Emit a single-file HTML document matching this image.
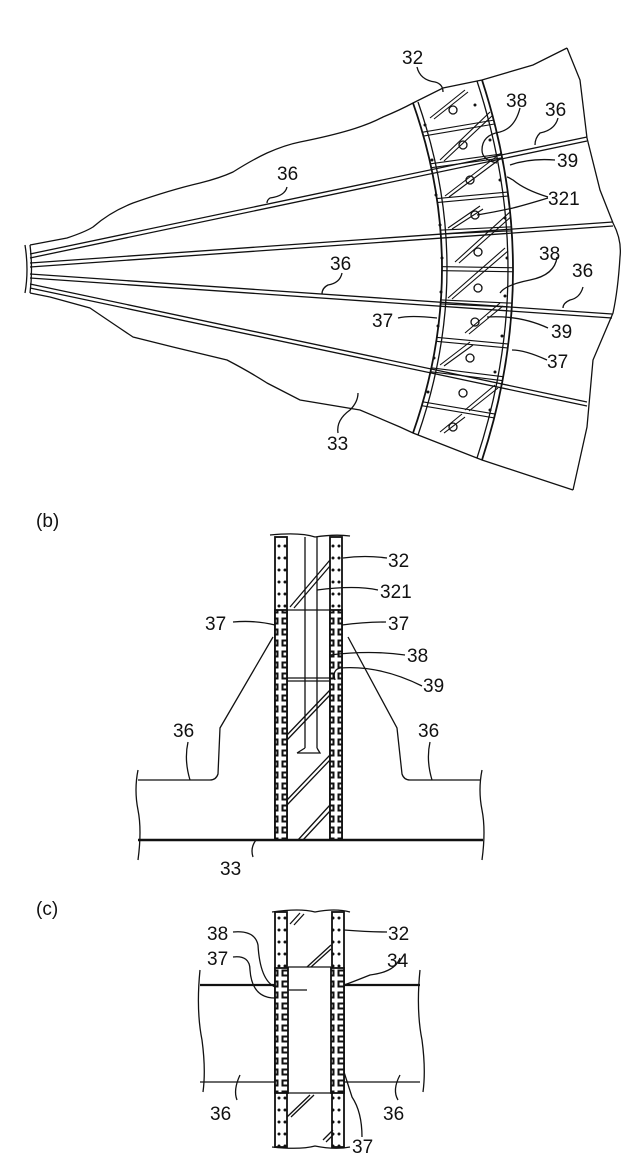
<!DOCTYPE html>
<html><head><style>
html,body{margin:0;padding:0;background:#fff;}
svg{display:block;}
text{font-family:"Liberation Sans",sans-serif;font-size:19px;fill:#111;}
</style></head><body>
<svg width="642" height="1162" viewBox="0 0 642 1162" xmlns="http://www.w3.org/2000/svg">
<defs>
<pattern id="hat" width="14" height="11" patternUnits="userSpaceOnUse">
<rect width="14" height="11" fill="#fff"/>
<rect x="2.5" y="2.5" width="9" height="5" fill="none" stroke="#111" stroke-width="2"/>
</pattern>
<pattern id="dots" width="6" height="12" patternUnits="userSpaceOnUse">
<rect width="6" height="12" fill="#fff"/><circle cx="3" cy="6" r="1.5" fill="#111"/>
</pattern>
<clipPath id="band"><path d="M413,103 Q471,268 413,433 L482,460 Q544,270 482,80 Z"/></clipPath>
</defs>
<g fill="none" stroke="#111" stroke-width="1.3">
<path d="M30,245 L67,238 Q85,232 93,227 Q110,212 133,203 Q170,190 200,183 Q220,178 233,172 Q252,160 267,153 Q285,145 300,142 Q330,136 350,130 Q370,124 383,117 Q400,110 413,103 L443,88 L482,80 L533,65 L567,48"/>
<path d="M567,48 L580,80 L587,138 L600,190 L613,223 Q622,240 620,257 Q618,290 613,313 L593,360 L587,427 L573,490"/>
<path d="M30,293 L50,297 L90,308 Q115,325 133,337 L173,347 L227,360 Q250,372 267,383 L300,400 L360,410 L400,427 L413,433 L482,460 L573,490"/>
<path d="M25,245 Q29,270 25,293 M30,245 Q33,270 30,293"/>
<path d="M30,254 L587,137 M30,258 L587,141"/>
<path d="M30,263 L613,222 M30,267 L613,226"/>
<path d="M30,274 L612,314 M30,278 L612,318"/>
<path d="M30,284 L587,402 M30,288 L587,406"/>
<path d="M413,103 Q471,268 413,433" stroke-width="1.8"/>
<path d="M418,102 Q476,268 418,435"/>
<path d="M482,80 Q544,270 482,460" stroke-width="1.8"/>
<path d="M477,81 Q539,270 477,458"/>
<g clip-path="url(#band)" stroke-width="1.1">
<path d="M400,136 L530,114 M400,140 L530,118"/>
<path d="M400,168 L530,150 M400,172 L530,154"/>
<path d="M400,202 L530,190 M400,206 L530,194"/>
<path d="M400,232 L530,226 M400,236 L530,230"/>
<path d="M400,266 L530,268 M400,270 L530,272"/>
<path d="M400,298 L530,304 M400,302 L530,308"/>
<path d="M400,334 L530,346 M400,338 L530,350"/>
<path d="M400,364 L530,380 M400,368 L530,384"/>
<path d="M400,398 L530,420 M400,402 L530,424"/>
<path d="M430,118 L465,90 M434,119 L468,92"/>
<path d="M440,160 L490,112 M444,161 L493,115"/>
<path d="M445,196 L505,150 M449,197 L508,153"/>
<path d="M448,228 L480,206 M452,229 L483,209"/>
<path d="M455,262 L510,212 M459,263 L513,215"/>
<path d="M448,298 L505,248 M452,299 L508,251"/>
<path d="M465,333 L500,303 M469,334 L503,306"/>
<path d="M440,365 L470,342 M444,366 L473,345"/>
<path d="M465,410 L495,385 M469,411 L498,388"/>
<path d="M440,432 L462,414 M444,433 L465,417"/>
</g>
<g>
<circle cx="453" cy="110" r="4"/><circle cx="463" cy="145" r="4"/><circle cx="470" cy="180" r="4"/>
<circle cx="475" cy="215" r="4"/><circle cx="478" cy="252" r="4"/><circle cx="478" cy="288" r="4"/>
<circle cx="475" cy="322" r="4"/><circle cx="470" cy="358" r="4"/><circle cx="463" cy="393" r="4"/><circle cx="453" cy="427" r="4"/>
</g>
<g fill="#111" stroke="none">
<circle cx="425" cy="125" r="1.5"/><circle cx="475" cy="105" r="1.5"/><circle cx="432" cy="160" r="1.5"/><circle cx="490" cy="140" r="1.5"/>
<circle cx="436" cy="195" r="1.5"/><circle cx="500" cy="180" r="1.5"/><circle cx="440" cy="225" r="1.5"/><circle cx="505" cy="218" r="1.5"/>
<circle cx="442" cy="258" r="1.5"/><circle cx="507" cy="258" r="1.5"/><circle cx="441" cy="292" r="1.5"/><circle cx="505" cy="296" r="1.5"/>
<circle cx="438" cy="326" r="1.5"/><circle cx="502" cy="336" r="1.5"/><circle cx="434" cy="358" r="1.5"/><circle cx="495" cy="372" r="1.5"/>
<circle cx="428" cy="392" r="1.5"/><circle cx="490" cy="410" r="1.5"/>
</g>
<path d="M417,67 Q420,80 435,82 Q443,84 443,92"/>
<path d="M520,108 Q515,128 500,132 Q482,135 482,150 Q482,160 497,163"/>
<path d="M558,118 Q555,130 540,133 Q535,138 535,145"/>
<path d="M555,160 Q530,158 510,165"/>
<path d="M548,197 Q525,190 513,180 Q508,177 507,177 M548,198 Q525,205 513,208 Q495,212 477,215"/>
<path d="M557,257 Q555,275 530,280 Q505,285 500,293"/>
<path d="M583,287 Q580,298 570,300 Q563,303 563,308"/>
<path d="M548,328 Q520,315 487,317"/>
<path d="M547,360 Q525,350 512,350"/>
<path d="M398,318 Q410,315 437,318"/>
<path d="M287,187 Q285,196 270,198 Q267,200 267,203"/>
<path d="M342,273 Q340,283 328,285 Q322,288 322,294"/>
<path d="M338,433 Q336,420 350,410 Q358,402 358,393"/>
<!-- (b) -->
<rect x="275" y="537" width="12" height="303" fill="url(#dots)" stroke-width="1.8"/>
<rect x="330" y="537" width="12" height="303" fill="url(#dots)" stroke-width="1.8"/>
<rect x="275" y="610" width="12" height="230" fill="url(#hat)" stroke-width="1.8"/>
<rect x="330" y="610" width="12" height="230" fill="url(#hat)" stroke-width="1.8"/>
<path d="M270,535 Q300,532 315,537 Q335,534 350,536"/>
<path d="M287,610 L330,610 M287,678 L330,678 M287,681 L330,681"/>
<path d="M305,537 L305,748 M317,537 L317,748 M297,753 L320,753 L317,748 M297,753 L305,748"/>
<path d="M290,607 L330,560 M294,608 L330,566"/>
<path d="M287,735 L330,690 M287,740 L330,695"/>
<path d="M287,800 L330,755 M287,805 L330,760"/>
<path d="M298,840 L330,805 M303,840 L330,811"/>
<path d="M273,637 L220,728 L218,774 Q216,780 210,780 L138,780"/>
<path d="M348,637 L397,728 L402,774 Q404,780 410,780 L480,780"/>
<path d="M138,840 L483,840" stroke-width="2.4"/>
<path d="M138,770 Q134,790 138,810 Q142,830 138,860 M482,770 Q478,790 482,810 Q486,830 482,860"/>
<path d="M387,558 Q365,555 343,558"/>
<path d="M378,590 Q355,585 317,590"/>
<path d="M233,622 Q255,620 275,625"/>
<path d="M386,622 Q365,622 342,625"/>
<path d="M405,655 Q370,650 330,655"/>
<path d="M422,686 Q380,665 340,668 Q332,670 335,680"/>
<path d="M188,742 Q184,760 190,780 M430,742 Q426,760 432,780"/>
<path d="M253,857 Q250,848 256,840"/>
<!-- (c) -->
<rect x="275" y="912" width="12" height="235" fill="url(#dots)" stroke-width="1.8"/>
<rect x="332" y="912" width="12" height="235" fill="url(#dots)" stroke-width="1.8"/>
<rect x="275" y="968" width="13" height="125" fill="url(#hat)" stroke-width="1.8"/>
<rect x="331" y="968" width="13" height="125" fill="url(#hat)" stroke-width="1.8"/>
<path d="M272,912 Q300,908 315,912 Q335,908 350,912 M272,1147 Q300,1150 315,1146 Q335,1150 350,1147"/>
<path d="M288,967 L331,967 M288,1093 L331,1093 M288,990 L307,990"/>
<path d="M290,924 L300,913 M294,925 L304,914"/>
<path d="M307,967 L331,945 M311,967 L331,949"/>
<path d="M287,1117 L310,1095 M291,1117 L314,1095"/>
<path d="M323,1140 L333,1130 M326,1142 L333,1135"/>
<path d="M200,985 L275,985 M344,985 L420,985" stroke-width="2.2"/>
<path d="M200,1082 L275,1082 M344,1082 L420,1082"/>
<path d="M200,970 Q196,1010 202,1040 Q206,1070 203,1092 M420,970 Q416,1010 422,1040 Q426,1070 423,1092"/>
<path d="M233,932 Q255,930 258,945 Q260,980 275,987"/>
<path d="M233,957 Q250,955 250,970 Q252,998 275,998"/>
<path d="M387,932 Q370,932 344,930"/>
<path d="M400,958 Q395,972 370,975 Q350,983 344,985"/>
<path d="M237,1100 Q233,1090 240,1075"/>
<path d="M398,1100 Q392,1090 400,1075"/>
<path d="M362,1137 Q362,1112 352,1097 L344,1072"/>
</g>
<text x="402" y="64">32</text>
<text x="506" y="107">38</text>
<text x="545" y="116">36</text>
<text x="557" y="167">39</text>
<text x="548" y="205">321</text>
<text x="539" y="260">38</text>
<text x="572" y="277">36</text>
<text x="551" y="338">39</text>
<text x="547" y="368">37</text>
<text x="372" y="327">37</text>
<text x="327" y="450">33</text>
<text x="277" y="180">36</text>
<text x="330" y="270">36</text>
<text x="36" y="527">(b)</text>
<text x="388" y="567">32</text>
<text x="380" y="598">321</text>
<text x="205" y="630">37</text>
<text x="388" y="630">37</text>
<text x="407" y="662">38</text>
<text x="423" y="692">39</text>
<text x="173" y="737">36</text>
<text x="418" y="737">36</text>
<text x="220" y="875">33</text>
<text x="36" y="915">(c)</text>
<text x="207" y="940">38</text>
<text x="207" y="965">37</text>
<text x="388" y="940">32</text>
<text x="387" y="967">34</text>
<text x="210" y="1120">36</text>
<text x="383" y="1120">36</text>
<text x="352" y="1153">37</text>
</svg>
</body></html>
